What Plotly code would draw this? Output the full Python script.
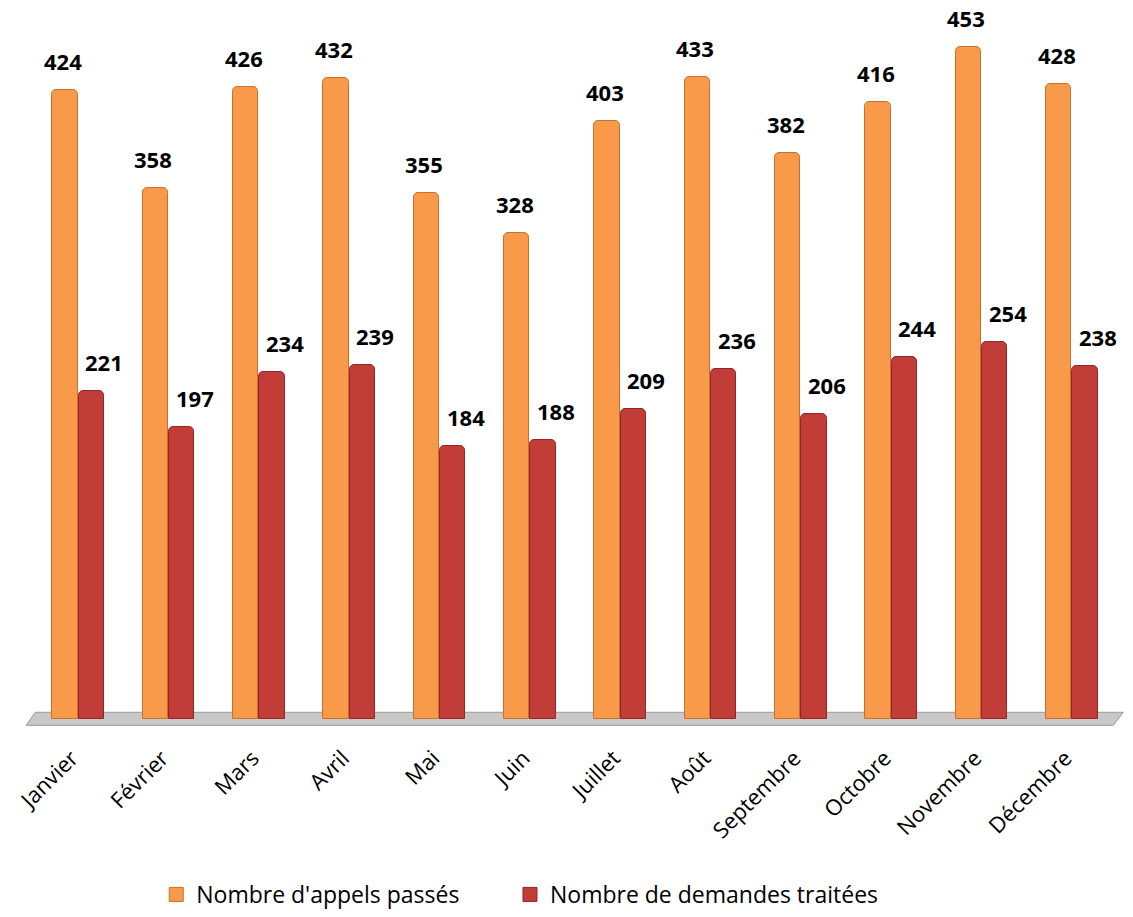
import plotly.graph_objects as go

months = ["Janvier", "Février", "Mars", "Avril", "Mai", "Juin", "Juillet",
          "Août", "Septembre", "Octobre", "Novembre", "Décembre"]
appels = [424, 358, 426, 432, 355, 328, 403, 433, 382, 416, 453, 428]
demandes = [221, 197, 234, 239, 184, 188, 209, 236, 206, 244, 254, 238]
series_names = ["Nombre d'appels passés", "Nombre de demandes traitées"]
colors = ["#F89A4A", "#C23C38"]
edge_colors = ["#C8702C", "#8E2725"]

idx = list(range(len(months)))
off = 0.145
bw = 0.28

fig = go.Figure()
for k, (vals, sign) in enumerate([(appels, -1), (demandes, 1)]):
    fig.add_trace(go.Bar(
        x=[i + sign * off for i in idx], y=vals, width=bw, name=series_names[k],
        showlegend=False,
        marker=dict(color=colors[k], line=dict(color=edge_colors[k], width=1), cornerradius=5),
    ))
# legend entries with square symbols, one legend each
legend_ids = ["legend", "legend2"]
for k in range(2):
    fig.add_trace(go.Scatter(
        x=[None], y=[None], mode="markers", name=series_names[k],
        legend=legend_ids[k],
        marker=dict(symbol="square", size=14, color=colors[k],
                    line=dict(color=edge_colors[k], width=1)),
    ))

annos = []
for i, v in zip(idx, appels):
    annos.append(dict(x=i - off, y=v, text=f"<b>{v}</b>", showarrow=False,
                      xref="x", yref="y", yanchor="bottom", yshift=12, xshift=-2,
                      font=dict(family="Open Sans", size=22, color="black")))
for i, v in zip(idx, demandes):
    annos.append(dict(x=i + off, y=v, text=f"<b>{v}</b>", showarrow=False,
                      xref="x", yref="y", yanchor="bottom", yshift=12, xshift=13,
                      font=dict(family="Open Sans", size=22, color="black")))

floor = dict(type="path", xref="x", yref="y",
             path="M -0.576,-4.2 L 11.46,-4.2 L 11.57,4.6 L -0.476,4.6 Z",
             fillcolor="#C8C8C8", line=dict(color="#9A9A9A", width=1), layer="below")

leg_common = dict(orientation="h", y=-0.2655, yanchor="bottom", xanchor="left",
                  font=dict(family="Open Sans", size=23, color="black"),
                  itemwidth=30, bgcolor="rgba(0,0,0,0)")

fig.update_layout(
    width=1133, height=917,
    margin=dict(l=24, r=7, t=20, b=189, autoexpand=False),
    plot_bgcolor="white", paper_bgcolor="white",
    showlegend=True,
    legend=dict(x=0.12, **leg_common),
    legend2=dict(x=0.441, **leg_common),
    annotations=annos,
    shapes=[floor],
    xaxis=dict(range=[-0.6, 11.6], tickmode="array", tickvals=[i - 0.07 for i in idx],
               ticktext=months,
               tickangle=-45, showgrid=False, zeroline=False, showline=False,
               ticks="", ticklabelstandoff=12,
               tickfont=dict(family="Open Sans", size=22, color="black")),
    yaxis=dict(range=[-6, 471.4], visible=False, showgrid=False, zeroline=False),
    bargap=0,
)

fig.write_html("out.html")
